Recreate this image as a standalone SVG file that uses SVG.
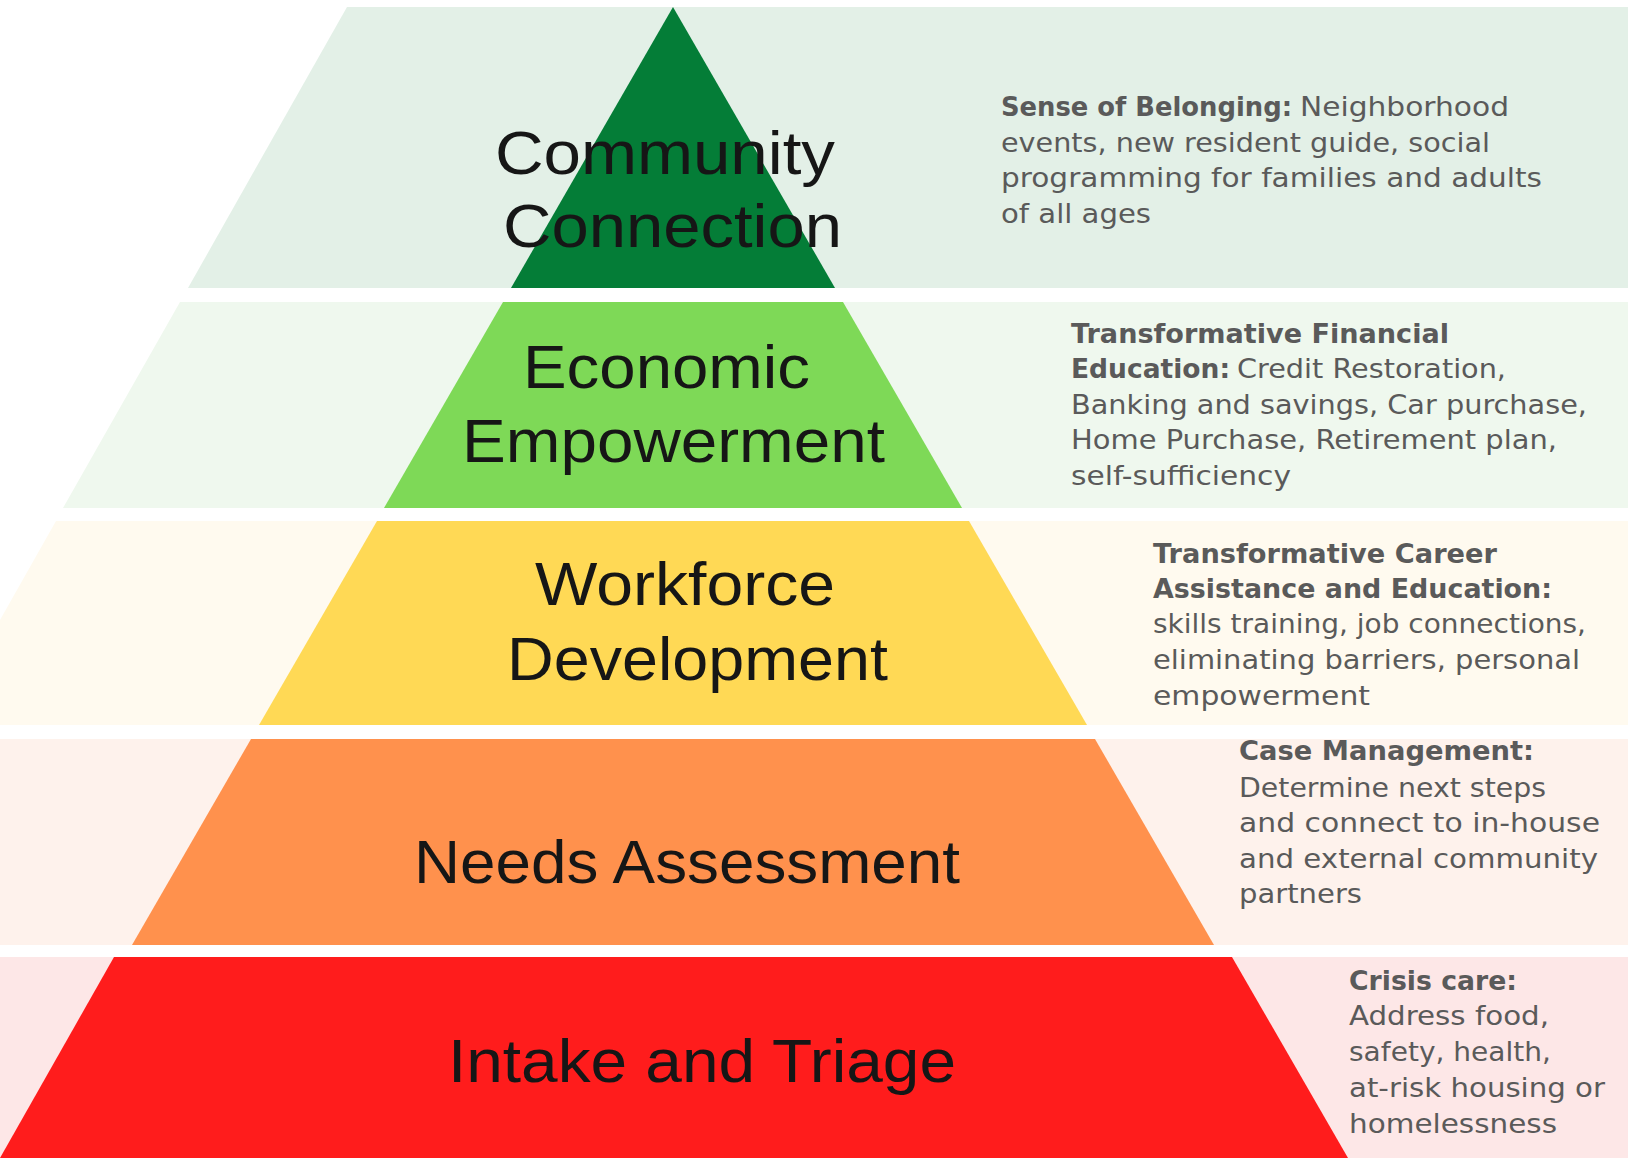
<svg xmlns="http://www.w3.org/2000/svg" width="1628" height="1158" viewBox="0 0 1628 1158">
<style>
.lbl{font-family:"Liberation Sans",Arial,sans-serif;font-size:61px;fill:#161616}
.desc{font-family:"DejaVu Sans","Noto Sans",sans-serif;font-size:26.5px;fill:#5a5a5a}
.b{font-weight:bold}
</style>
<rect x="0" y="0" width="1628" height="1158" fill="#ffffff"/>
<g id="tier-community">
<polygon points="347,7 1628,7 1628,288 188,288" fill="#e3f0e7"/>
<polygon points="673,7 835,288 511,288" fill="#047d37"/>
<text class="lbl" x="495" y="174" textLength="340" lengthAdjust="spacingAndGlyphs">Community</text>
<text class="lbl" x="503" y="247" textLength="339" lengthAdjust="spacingAndGlyphs">Connection</text>
<text class="desc"><tspan class="b" x="1001" y="116" textLength="291" lengthAdjust="spacingAndGlyphs">Sense of Belonging:</tspan><tspan x="1300" y="116" textLength="209" lengthAdjust="spacingAndGlyphs">Neighborhood</tspan></text>
<text class="desc" x="1001" y="152" textLength="489" lengthAdjust="spacingAndGlyphs">events, new resident guide, social</text>
<text class="desc" x="1001" y="187" textLength="541" lengthAdjust="spacingAndGlyphs">programming for families and adults</text>
<text class="desc" x="1001" y="223" textLength="150" lengthAdjust="spacingAndGlyphs">of all ages</text>
</g>
<g id="tier-economic">
<polygon points="180,302 1628,302 1628,508 63,508" fill="#eff8ee"/>
<polygon points="503,302 843,302 962,508 384,508" fill="#7ed957"/>
<text class="lbl" x="523" y="388" textLength="287" lengthAdjust="spacingAndGlyphs">Economic</text>
<text class="lbl" x="462" y="462" textLength="423" lengthAdjust="spacingAndGlyphs">Empowerment</text>
<text class="desc b" x="1071" y="343" textLength="378" lengthAdjust="spacingAndGlyphs">Transformative Financial</text>
<text class="desc"><tspan class="b" x="1071" y="378" textLength="159" lengthAdjust="spacingAndGlyphs">Education:</tspan><tspan x="1237" y="378" textLength="269" lengthAdjust="spacingAndGlyphs">Credit Restoration,</tspan></text>
<text class="desc" x="1071" y="414" textLength="516" lengthAdjust="spacingAndGlyphs">Banking and savings, Car purchase,</text>
<text class="desc" x="1071" y="449" textLength="486" lengthAdjust="spacingAndGlyphs">Home Purchase, Retirement plan,</text>
<text class="desc" x="1071" y="485" textLength="220" lengthAdjust="spacingAndGlyphs">self-sufficiency</text>
</g>
<g id="tier-workforce">
<polygon points="56,521 1628,521 1628,725 0,725 0,620" fill="#fffaef"/>
<polygon points="377,521 969,521 1087,725 259,725" fill="#ffd955"/>
<text class="lbl" x="535" y="605" textLength="300" lengthAdjust="spacingAndGlyphs">Workforce</text>
<text class="lbl" x="507" y="680" textLength="381" lengthAdjust="spacingAndGlyphs">Development</text>
<text class="desc b" x="1153" y="563" textLength="344" lengthAdjust="spacingAndGlyphs">Transformative Career</text>
<text class="desc b" x="1153" y="598" textLength="399" lengthAdjust="spacingAndGlyphs">Assistance and Education:</text>
<text class="desc" x="1153" y="633" textLength="433" lengthAdjust="spacingAndGlyphs">skills training, job connections,</text>
<text class="desc" x="1153" y="669" textLength="427" lengthAdjust="spacingAndGlyphs">eliminating barriers, personal</text>
<text class="desc" x="1153" y="705" textLength="217" lengthAdjust="spacingAndGlyphs">empowerment</text>
</g>
<g id="tier-needs">
<rect x="0" y="739" width="1628" height="206" fill="#fef2ec"/>
<polygon points="251,739 1095,739 1214,945 132,945" fill="#ff914d"/>
<text class="lbl" x="414" y="883" textLength="546" lengthAdjust="spacingAndGlyphs">Needs Assessment</text>
<text class="desc b" x="1239" y="760" textLength="295" lengthAdjust="spacingAndGlyphs">Case Management:</text>
<text class="desc" x="1239" y="797" textLength="307" lengthAdjust="spacingAndGlyphs">Determine next steps</text>
<text class="desc" x="1239" y="832" textLength="361" lengthAdjust="spacingAndGlyphs">and connect to in-house</text>
<text class="desc" x="1239" y="868" textLength="359" lengthAdjust="spacingAndGlyphs">and external community</text>
<text class="desc" x="1239" y="903" textLength="123" lengthAdjust="spacingAndGlyphs">partners</text>
</g>
<g id="tier-intake">
<rect x="0" y="957" width="1628" height="201" fill="#fde7e7"/>
<polygon points="114,957 1232,957 1348,1158 0,1158" fill="#ff1c1c"/>
<text class="lbl" x="448" y="1082" textLength="508" lengthAdjust="spacingAndGlyphs">Intake and Triage</text>
<text class="desc b" x="1349" y="990" textLength="168" lengthAdjust="spacingAndGlyphs">Crisis care:</text>
<text class="desc" x="1349" y="1025" textLength="200" lengthAdjust="spacingAndGlyphs">Address food,</text>
<text class="desc" x="1349" y="1061" textLength="202" lengthAdjust="spacingAndGlyphs">safety, health,</text>
<text class="desc" x="1349" y="1097" textLength="256" lengthAdjust="spacingAndGlyphs">at-risk housing or</text>
<text class="desc" x="1349" y="1133" textLength="208" lengthAdjust="spacingAndGlyphs">homelessness</text>
</g>
<g id="connectors"></g>
</svg>
